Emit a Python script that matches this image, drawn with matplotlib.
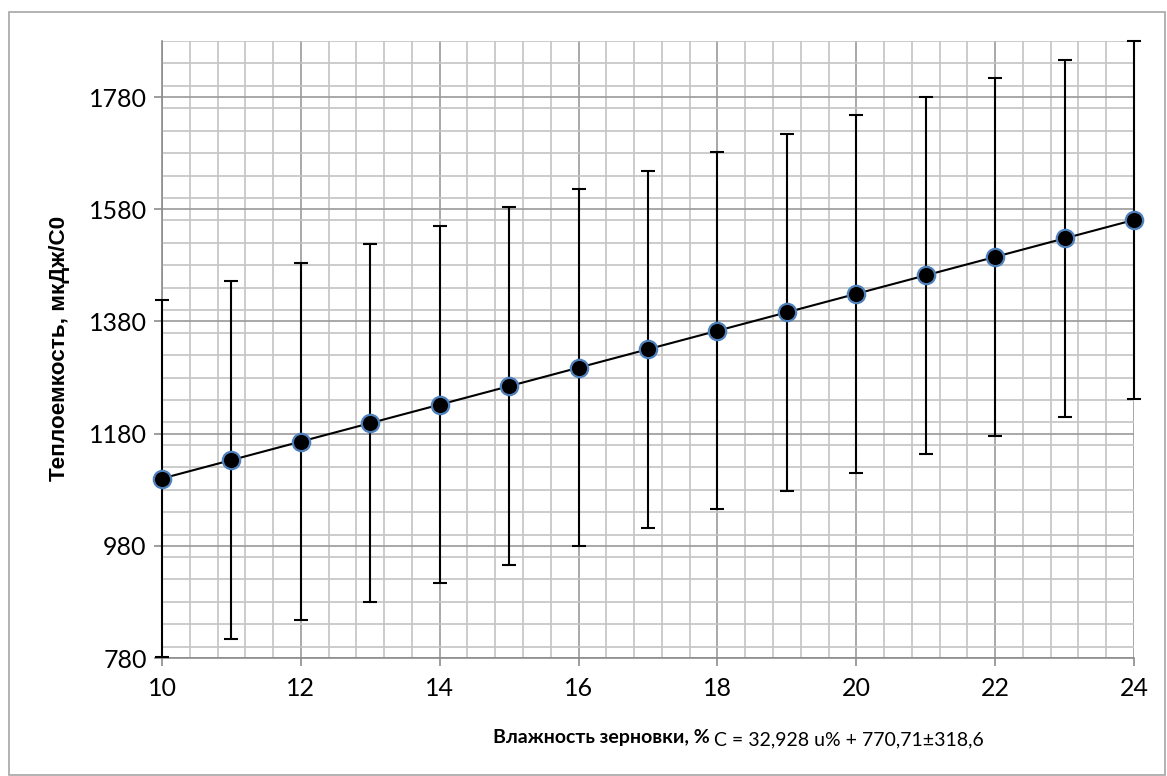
import numpy as np
import matplotlib.pyplot as plt
from matplotlib.patches import Rectangle
from matplotlib.ticker import MultipleLocator

# --- data ---
moisture = [10, 11, 12, 13, 14, 15, 16, 17, 18, 19, 20, 21, 22, 23, 24]
heat_cap = [1100.0, 1132.9, 1165.9, 1198.8, 1231.7, 1264.6, 1297.6, 1330.5,
            1363.4, 1396.3, 1429.3, 1462.2, 1495.1, 1528.1, 1561.0]
err = [318.6] * len(moisture)

yticks = [780, 980, 1180, 1380, 1580, 1780]
xticks = [10, 12, 14, 16, 18, 20, 22, 24]

W, H = 1167, 776
fig = plt.figure(figsize=(W / 100, H / 100), dpi=100)
ax = fig.add_axes([162 / W, 1 - 658 / H, (1134 - 162) / W, (658 - 41) / H])

# outer frame
fig.patches.append(Rectangle((9 / W, 1 / H), (1165 - 9) / W, (764 - 1) / H,
                             transform=fig.transFigure, fill=False,
                             edgecolor="#a6a6a6", lw=1.2))

ax.set_xlim(10, 24)
ax.set_ylim(780, 1880)
ax.set_xticks(xticks)
ax.set_yticks(yticks)
ax.xaxis.set_minor_locator(MultipleLocator(0.4))
ax.yaxis.set_minor_locator(MultipleLocator(40))
ax.grid(True, which="minor", color="#c4c4c4", lw=1.2)
ax.grid(True, which="major", color="#9a9a9a", lw=1.2)
ax.set_axisbelow(True)

for s in ["top", "right"]:
    ax.spines[s].set_visible(False)
for s in ["left", "bottom"]:
    ax.spines[s].set_color("#8c8c8c")
    ax.spines[s].set_linewidth(1.2)

ax.tick_params(which="major", length=6, width=1.2, color="#8c8c8c",
               labelsize=18, pad=5)
ax.tick_params(axis="x", which="major", pad=8)
ax.tick_params(which="minor", length=0)
for lab in ax.get_xticklabels() + ax.get_yticklabels():
    lab.set_fontfamily("Lato")

# error bars
ax.errorbar(moisture, heat_cap, yerr=err, fmt="none", ecolor="black",
            elinewidth=1.5, capsize=5, capthick=1.5, clip_on=False, zorder=3)

# line + markers
ax.plot(moisture, heat_cap, "-", color="black", lw=1.5, zorder=4, clip_on=False)
ax.plot(moisture, heat_cap, "o", ms=12.5, mfc="black", mec="#4f81bd",
        mew=1.6, zorder=5, clip_on=False)

fig.text(60 / W, 1 - 348 / H, "Теплоемкость, мкДж/С0", rotation=90,
         ha="center", va="center", fontsize=16.2, fontweight="bold",
         family="Liberation Sans")
fig.text(710 / W, 1 - 738 / H, "Влажность зерновки, %", ha="right",
         va="center", fontsize=14, fontweight="bold", family="Lato")
fig.text(714 / W, 1 - 740 / H, "C = 32,928 u% + 770,71±318,6", ha="left",
         va="center", fontsize=14, family="Lato")

plt.savefig("out.png", dpi=100)
